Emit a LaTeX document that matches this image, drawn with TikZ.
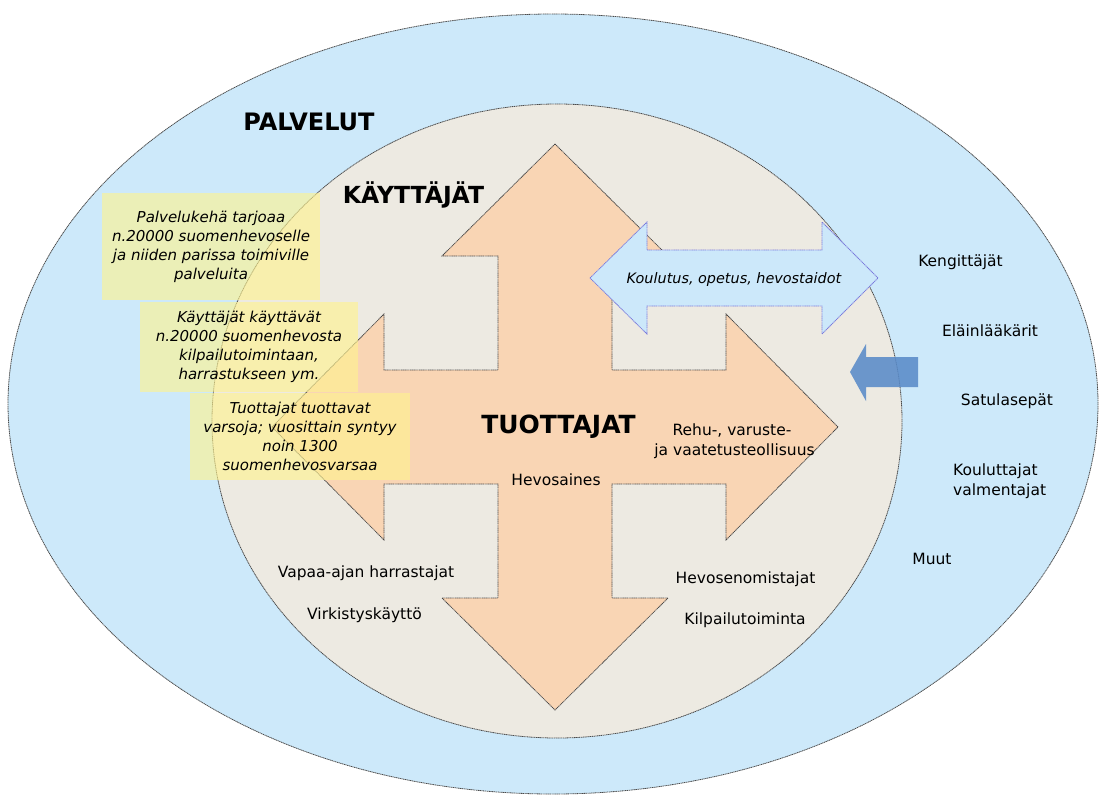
\documentclass[tikz,border=0pt]{standalone}
\usepackage{fontspec}
\setmainfont{DejaVu Sans}
\definecolor{outerblue}{HTML}{CDE9FA}
\definecolor{innerbeige}{HTML}{EDEAE2}
\definecolor{peach}{HTML}{F9D5B4}
\definecolor{arrowblue}{HTML}{CCE8FA}
\definecolor{arrowedge}{HTML}{7A7ADC}
\definecolor{steel}{HTML}{5A8BC8}
\definecolor{noteyellow}{HTML}{FFF38E}
\definecolor{rim}{HTML}{4A4A4A}
\begin{document}
\begin{tikzpicture}[x=1pt,y=-1pt,
  rimline/.style={draw=rim, line width=0.8pt, dash pattern=on 1.2pt off 0.6pt},
  lbl/.style={font=\fontsize{15.5}{19}\selectfont, inner sep=0pt, anchor=base},
  ttl/.style={font=\bfseries\fontsize{24}{28}\selectfont, inner sep=0pt, anchor=base},
  notebox/.style={rectangle, fill=noteyellow, fill opacity=0.62, text opacity=1,
    minimum width=218pt, inner sep=0pt, align=center,
    font=\itshape\fontsize{15}{19}\selectfont}]
\useasboundingbox (0,0) rectangle (1099,796);
\fill[white] (0,0) rectangle (1099,796);

% service ring and user circle
\path[fill=outerblue, rimline] (553,404) ellipse [x radius=545, y radius=390];
\path[fill=innerbeige, rimline] (557,421) ellipse [x radius=345, y radius=317];

% four-way arrow of the producers
\begin{scope}[shift={(555,427)}]
\path[fill=peach, rimline]
  (0,-283) -- (113,-171) -- (57,-171) -- (57,-57) -- (171,-57) -- (171,-113)
  -- (283,0) -- (171,113) -- (171,57) -- (57,57) -- (57,171) -- (113,171)
  -- (0,283) -- (-113,171) -- (-57,171) -- (-57,57) -- (-171,57) -- (-171,113)
  -- (-283,0) -- (-171,-113) -- (-171,-57) -- (-57,-57) -- (-57,-171) -- (-113,-171)
  -- cycle;
\end{scope}

% double arrow for training
\begin{scope}[shift={(734,278)}]
\path[fill=arrowblue, draw=arrowedge, line width=0.8pt, dash pattern=on 1.2pt off 0.6pt]
  (-144,0) -- (-87,-56) -- (-87,-28) -- (88,-28) -- (88,-56) -- (144,0)
  -- (88,56) -- (88,28) -- (-87,28) -- (-87,56) -- cycle;
\end{scope}
\node[font=\itshape\fontsize{14.4}{17}\selectfont, inner sep=0pt, anchor=base] (koulutus) at (734,283) {Koulutus, opetus, hevostaidot};

% services flowing inwards
\path[fill=steel, fill opacity=0.88]
  (850,372) -- (866,344) -- (866,357) -- (918,357) -- (918,387) -- (866,387) -- (866,401) -- cycle;

% notes
\node[notebox, minimum height=107pt] (note1) at (211,246.5)
  {Palvelukehä tarjoaa\\n.20000 suomenhevoselle\\ja niiden parissa toimiville\\palveluita};
\node[notebox, minimum height=90pt] (note2) at (249,347)
  {Käyttäjät käyttävät\\n.20000 suomenhevosta\\kilpailutoimintaan,\\harrastukseen ym.};
\node[notebox, minimum width=220pt, minimum height=87pt] (note3) at (300,436.5)
  {Tuottajat tuottavat\\varsoja; vuosittain syntyy\\noin 1300\\suomenhevosvarsaa};

% titles
\node[ttl] (palvelut) at (309,130) {PALVELUT};
\node[ttl, font=\bfseries\fontsize{23.5}{28}\selectfont] (kayttajat) at (413.5,203) {KÄYTTÄJÄT};
\node[ttl, font=\bfseries\fontsize{25}{30}\selectfont] (tuottajat) at (558.5,433) {TUOTTAJAT};

% labels inside the circle
\node[lbl] (rehu) at (732,435) {Rehu-, varuste-};
\node[lbl] (vaatetus) at (734.5,455) {ja vaatetusteollisuus};
\node[lbl] (hevosaines) at (556,485) {Hevosaines};
\node[lbl] (vapaa) at (366,577) {Vapaa-ajan harrastajat};
\node[lbl] (virkistys) at (364.5,619) {Virkistyskäyttö};
\node[lbl] (omistajat) at (745.5,583) {Hevosenomistajat};
\node[lbl] (kilpailu) at (745,624) {Kilpailutoiminta};

% service providers
\node[lbl] (kengittajat) at (960.5,266) {Kengittäjät};
\node[lbl] (elainlaakarit) at (990,336) {Eläinlääkärit};
\node[lbl] (satulasepat) at (1007,405) {Satulasepät};
\node[lbl, anchor=base west, align=left] (kouluttajat) at (953,475) {Kouluttajat};
\node[lbl, anchor=base west, align=left] (valmentajat) at (953,495) {valmentajat};
\node[lbl] (muut) at (932,564) {Muut};
\end{tikzpicture}
\end{document}
